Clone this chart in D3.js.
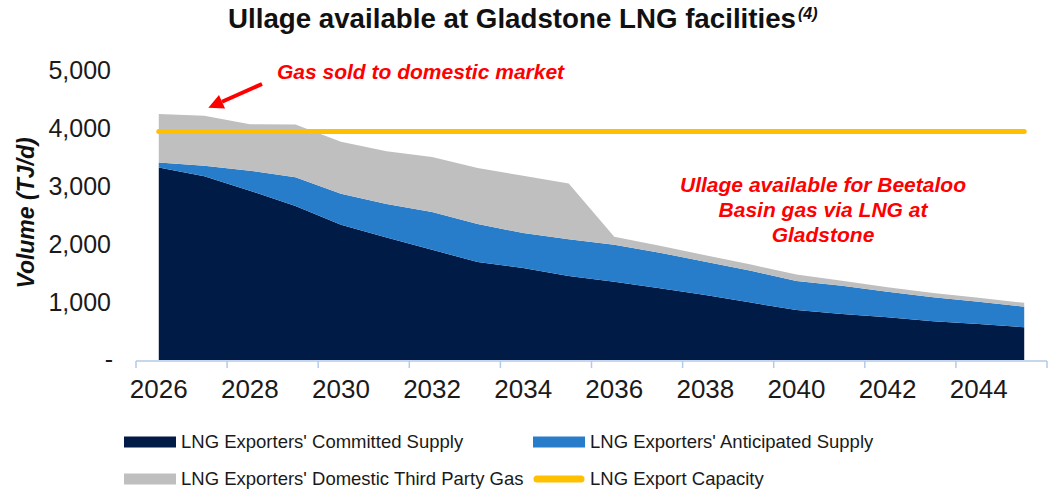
<!DOCTYPE html>
<html>
<head>
<meta charset="utf-8">
<script src="https://cdn.jsdelivr.net/npm/d3@7"></script>
<style>
  html, body { margin: 0; padding: 0; background: #fff; }
  svg { display: block; font-family: "Liberation Sans", Arial, sans-serif; }
</style>
</head>
<body>
<svg id="chart" width="1050" height="495"></svg>
<script>
// ---- Data (TJ/d) ----
const years = [2026, 2027, 2028, 2029, 2030, 2031, 2032, 2033, 2034, 2035,
               2036, 2037, 2038, 2039, 2040, 2041, 2042, 2043, 2044, 2045];
const committed   = [3320, 3170, 2920, 2655, 2330, 2110, 1900, 1690, 1585, 1450,
                     1350, 1235, 1120, 990, 860, 795, 735, 670, 620, 565];
const anticipated = [85, 180, 345, 495, 535, 580, 650, 655, 605, 630,
                     635, 615, 575, 550, 500, 485, 440, 410, 385, 355];
const thirdParty  = [835, 860, 800, 910, 900, 910, 950, 965, 985, 965,
                     140, 120, 110, 105, 115, 85, 80, 75, 70, 65];
const capacity    = [3940, 3940, 3940, 3940, 3940, 3940, 3940, 3940, 3940, 3940,
                     3940, 3940, 3940, 3940, 3940, 3940, 3940, 3940, 3940, 3940];
const yTicks = [0, 1000, 2000, 3000, 4000, 5000];
const xTickLabels = [2026, 2028, 2030, 2032, 2034, 2036, 2038, 2040, 2042, 2044];

const seriesNames = {
  committed: "LNG Exporters' Committed Supply",
  anticipated: "LNG Exporters' Anticipated Supply",
  thirdParty: "LNG Exporters' Domestic Third Party Gas",
  capacity: "LNG Export Capacity"
};
const colors = {
  committed: "#001b45",
  anticipated: "#287dca",
  thirdParty: "#bfbfbf",
  capacity: "#ffc000"
};

(function () {
// ---- Build table ----
const table = years.map((yr, i) => ({
  year: yr, committed: committed[i], anticipated: anticipated[i],
  thirdParty: thirdParty[i], capacity: capacity[i]
}));

const svg = d3.select("#chart");
const pLeft = 136, pRight = 1047, pTop = 70, pBottom = 360;

const x = d3.scaleBand().domain(years).range([pLeft, pRight]).padding(0);
const xc = d => x(d) + x.bandwidth() / 2;
const y = d3.scaleLinear().domain([0, 5000]).range([pBottom, pTop]);

// ---- Title ----
const title = svg.append("text")
  .attr("x", 228).attr("y", 28)
  .attr("font-weight", "bold").attr("font-size", 27).attr("fill", "#111");
title.append("tspan").text("Ullage available at Gladstone LNG facilities")
  .attr("textLength", 568).attr("lengthAdjust", "spacingAndGlyphs");
title.append("tspan").text("(4)").attr("dy", -9).attr("dx", 2)
  .attr("font-size", 16).attr("font-style", "italic");

// ---- Stacked areas ----
const keys = ["committed", "anticipated", "thirdParty"];
const stacked = d3.stack().keys(keys)(table);
const area = d3.area()
  .x(d => xc(d.data.year))
  .y0(d => y(d[0]))
  .y1(d => y(d[1]))
  .curve(d3.curveLinear);

svg.append("g").selectAll("path")
  .data(stacked)
  .join("path")
  .attr("d", area)
  .attr("fill", d => colors[d.key]);

// ---- Capacity line ----
const line = d3.line().x(d => xc(d.year)).y(d => y(d.capacity));
svg.append("path")
  .datum(table)
  .attr("d", line)
  .attr("fill", "none")
  .attr("stroke", colors.capacity)
  .attr("stroke-width", 5)
  .attr("stroke-linecap", "round");

// ---- X axis ----
const xAxisG = svg.append("g").attr("transform", `translate(0,${pBottom + 1})`);
const tickYears = years.filter((d, i) => i % 2 === 0);
xAxisG.append("line")
  .attr("x1", pLeft).attr("x2", pRight).attr("y1", 0).attr("y2", 0)
  .attr("stroke", "#b4c9ea").attr("stroke-width", 1.5);
xAxisG.selectAll("line.tick")
  .data(tickYears.concat([null]))
  .join("line").attr("class", "tick")
  .attr("x1", d => d === null ? pRight : x(d))
  .attr("x2", d => d === null ? pRight : x(d))
  .attr("y1", 0).attr("y2", 7)
  .attr("stroke", "#b4c9ea").attr("stroke-width", 1.5);
xAxisG.selectAll("text")
  .data(xTickLabels)
  .join("text")
  .attr("x", d => xc(d))
  .attr("y", 37)
  .attr("text-anchor", "middle")
  .attr("font-size", 26)
  .attr("fill", "#1a1a1a")
  .text(d => d);

// ---- Y axis labels ----
const fmt = d3.format(",");
svg.append("g").selectAll("text")
  .data(yTicks)
  .join("text")
  .attr("x", d => d === 0 ? 113 : 111)
  .attr("y", d => y(d))
  .attr("dy", d => d === 0 ? "0.3em" : "0.36em")
  .attr("text-anchor", "end")
  .attr("font-size", 25)
  .attr("fill", "#1a1a1a")
  .text(d => d === 0 ? "-" : fmt(d));

svg.append("text")
  .attr("transform", `translate(34,213) rotate(-90)`)
  .attr("text-anchor", "middle")
  .attr("font-size", 23).attr("font-weight", "bold").attr("font-style", "italic")
  .attr("fill", "#111")
  .text("Volume (TJ/d)");

// ---- Annotations ----
const red = "#ff0000";
svg.append("text")
  .attr("x", 277).attr("y", 79)
  .attr("font-size", 21).attr("font-weight", "bold").attr("font-style", "italic")
  .attr("fill", red)
  .text("Gas sold to domestic market");

// arrow pointing at the third-party gas at 2027
const tipX = xc(2027) + 4, tipY = y(4210) - 8;
const startX = 262, startY = 84;
const ang = Math.atan2(tipY - startY, tipX - startX);
const headLen = 15, headW = 7.5;
const bx = tipX - headLen * Math.cos(ang), by = tipY - headLen * Math.sin(ang);
svg.append("line")
  .attr("x1", startX).attr("y1", startY).attr("x2", bx).attr("y2", by)
  .attr("stroke", red).attr("stroke-width", 4);
svg.append("path")
  .attr("d", `M${tipX},${tipY} L${bx + headW * Math.sin(ang)},${by - headW * Math.cos(ang)} L${bx - headW * Math.sin(ang)},${by + headW * Math.cos(ang)} Z`)
  .attr("fill", red);

const ullLines = ["Ullage available for Beetaloo", "Basin gas via LNG at", "Gladstone"];
svg.append("g").selectAll("text")
  .data(ullLines)
  .join("text")
  .attr("x", 823)
  .attr("y", (d, i) => 192 + i * 25)
  .attr("text-anchor", "middle")
  .attr("font-size", 21).attr("font-weight", "bold").attr("font-style", "italic")
  .attr("fill", red)
  .text(d => d);

// ---- Legend ----
const legendItems = [
  { key: "committed", x: 124, y: 442, type: "rect" },
  { key: "anticipated", x: 533, y: 442, type: "rect" },
  { key: "thirdParty", x: 124, y: 479, type: "rect" },
  { key: "capacity", x: 533, y: 479, type: "line" }
];
const lg = svg.append("g");
legendItems.forEach(it => {
  if (it.type === "rect") {
    lg.append("rect").attr("x", it.x).attr("y", it.y - 5.5)
      .attr("width", 52).attr("height", 11).attr("fill", colors[it.key]);
  } else {
    lg.append("line").attr("x1", it.x + 4).attr("x2", it.x + 48)
      .attr("y1", it.y).attr("y2", it.y)
      .attr("stroke", colors[it.key]).attr("stroke-width", 7)
      .attr("stroke-linecap", "round");
  }
  lg.append("text").attr("x", it.x + 57).attr("y", it.y).attr("dy", "0.35em")
    .attr("font-size", 18.5).attr("fill", "#1a1a1a")
    .text(seriesNames[it.key]);
});
})();
</script>
</body>
</html>
